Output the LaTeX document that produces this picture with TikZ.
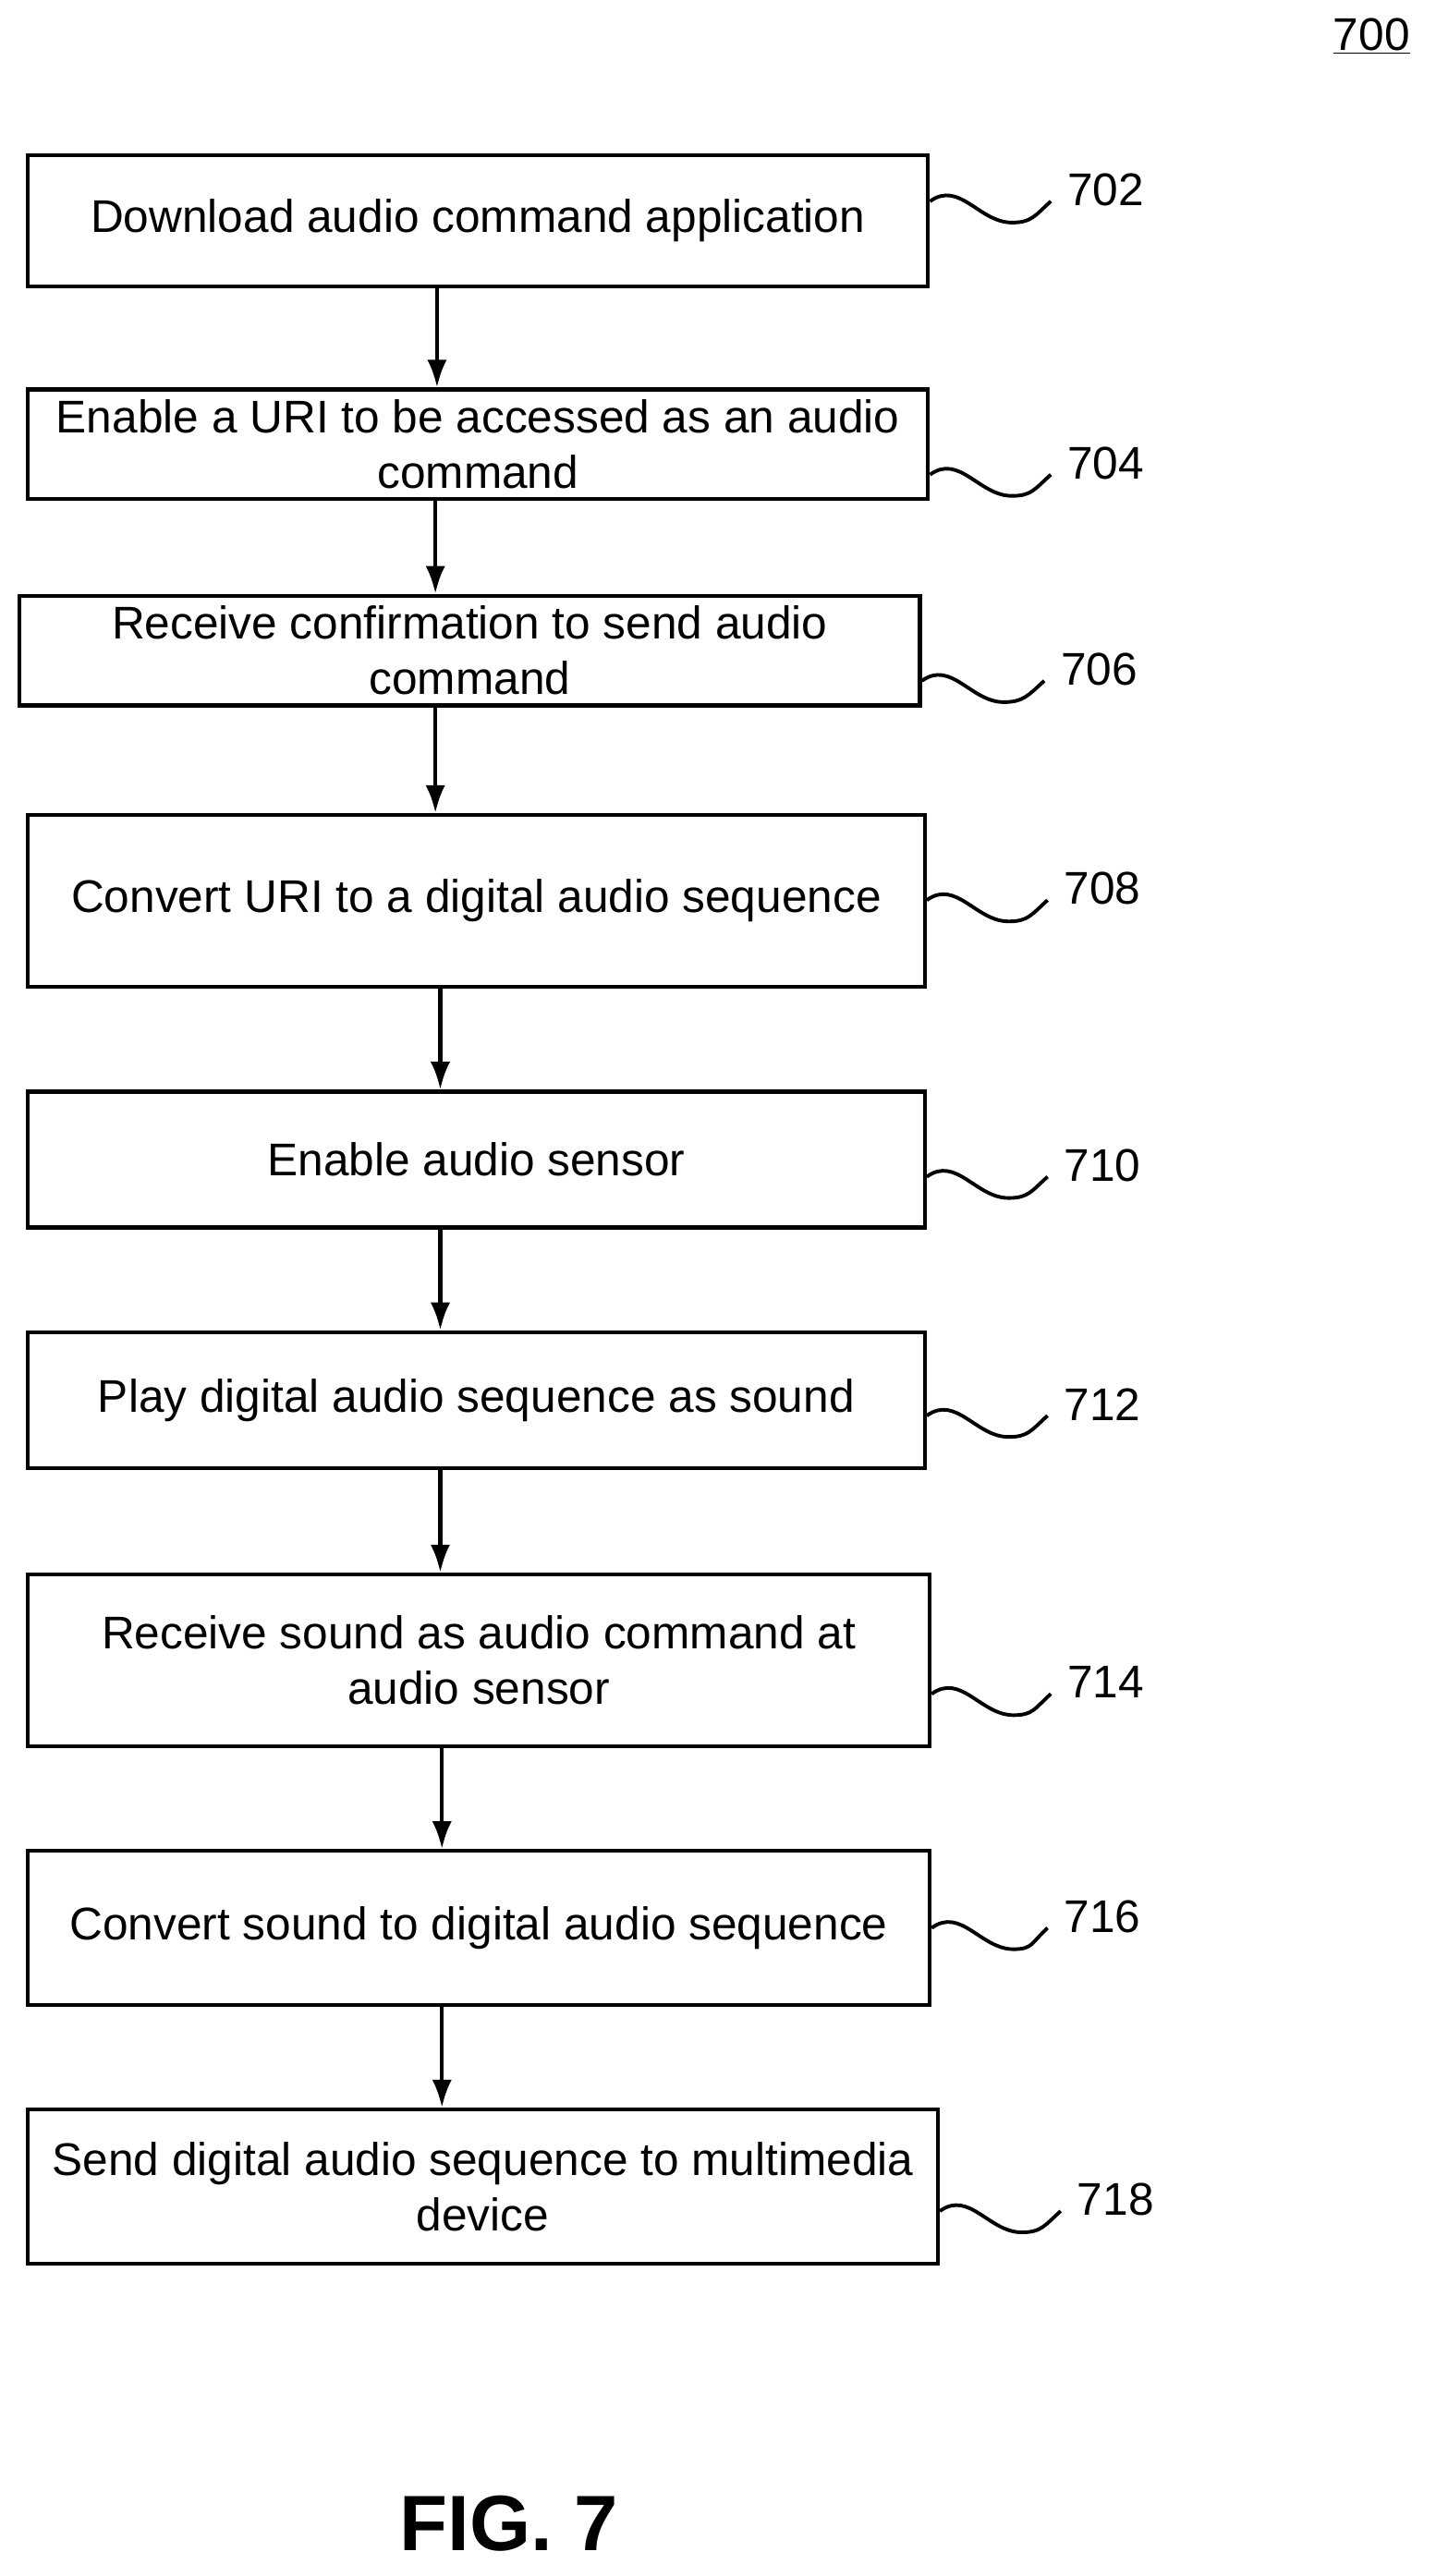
\documentclass[tikz,border=0pt]{standalone}
\usepackage{fontspec}
\setmainfont{Liberation Sans}
\usetikzlibrary{calc,arrows.meta}
\begin{document}
\begin{tikzpicture}[x=1pt,y=-1pt,
  box/.style={draw,line width=2.4pt,inner sep=0pt,align=center,font=\fontsize{28}{34}\selectfont},
  lbl/.style={anchor=west,inner sep=0pt,font=\fontsize{28}{30}\selectfont},
  arr/.style={-{Latex[length=17pt,width=12pt]},line width=2.4pt},
  sq/.style={line width=2.2pt}]
\useasboundingbox (0,0) rectangle (877,1574);
\def\B#1#2#3#4#5#6{\node[box,minimum width={#3-#2},minimum height={#5-#4}] (b#1) at ({(#2+#3)/2},{(#4+#5)/2}) {#6};}
\B{702}{17}{567}{95}{175}{Download audio command application}
\B{704}{17}{567}{238}{305}{Enable a URI to be accessed as an audio\\command}
\B{706}{12}{562}{364}{431}{Receive confirmation to send audio\\command}
\B{708}{17}{565}{498}{603}{Convert URI to a digital audio sequence}
\B{710}{17}{565}{667}{750}{Enable audio sensor}
\B{712}{17}{565}{814}{897}{Play digital audio sequence as sound}
\B{714}{17}{568}{962}{1067}{Receive sound as audio command at\\audio sensor}
\B{716}{17}{568}{1131}{1225}{Convert sound to digital audio sequence}
\B{718}{17}{573}{1289}{1383}{Send digital audio sequence to multimedia\\device}
\def\L#1#2#3{\node[lbl] (l#1) at (#2,#3) {#1};
  \coordinate (e#1) at ($(l#1.west)+(-10,7)$);
  \coordinate (s#1) at (b#1.east |- e#1);
  \coordinate (t#1) at ($(s#1)+(50,13)$);
  \draw[sq] (s#1) .. controls +(18,-13) and +(-20,0) .. (t#1) .. controls +(12,0) and +(-10,9) .. (e#1);}
\L{702}{652}{116}
\L{704}{652}{283}
\L{706}{648}{409}
\L{708}{650}{543}
\L{710}{650}{712}
\L{712}{650}{858}
\L{714}{652}{1028}
\L{716}{650}{1171}
\L{718}{658}{1344}
\draw[arr] (b702.south -| 267,0) -- (b704.north -| 267,0);
\draw[arr] (b704.south -| 266,0) -- (b706.north -| 266,0);
\draw[arr] (b706.south -| 266,0) -- (b708.north -| 266,0);
\draw[arr] (b708.south -| 269,0) -- (b710.north -| 269,0);
\draw[arr] (b710.south -| 269,0) -- (b712.north -| 269,0);
\draw[arr] (b712.south -| 269,0) -- (b714.north -| 269,0);
\draw[arr] (b714.south -| 270,0) -- (b716.north -| 270,0);
\draw[arr] (b716.south -| 270,0) -- (b718.north -| 270,0);
\node[inner sep=0pt,font=\fontsize{28}{30}\selectfont] (n700) at (838,22) {\underline{700}};
\node[inner sep=0pt,font=\bfseries\fontsize{48}{50}\selectfont] (fig) at (311,1542) {FIG. 7};
\end{tikzpicture}
\end{document}
